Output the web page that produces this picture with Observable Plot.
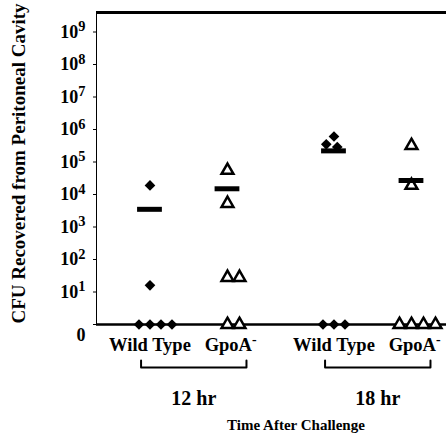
<!DOCTYPE html>
<html>
<head>
<meta charset="utf-8">
<script src="https://cdn.jsdelivr.net/npm/d3@7"></script>
<script src="https://cdn.jsdelivr.net/npm/@observablehq/plot@0.6"></script>
<style>
  body { margin: 0; background: white; overflow: hidden; }
  #caption { width: 446px; box-sizing: border-box; padding-left: 146px; text-align: center;
    font-family: "Liberation Serif", "Times New Roman", Times, "DejaVu Serif", serif;
    font-weight: bold; font-size: 15px; line-height: 18px; color: black; }
  svg text { font-family: "Liberation Serif", "Times New Roman", Times, "DejaVu Serif", serif; }
</style>
</head>
<body>
<div id="chart"></div>
<div id="caption">Time After Challenge</div>
<script>
// ---- data (CFU recovered per mouse; 0 = none recovered) ----
const strains = ["Wild Type", "GpoA⁻"];
const times = ["12 hr", "18 hr"];
const cfuWT12 = [19000, 16, 0, 0, 0, 0];
const cfuGpoA12 = [55000, 5300, 28, 28, 0, 0];
const cfuWT18 = [610000, 290000, 350000, 0, 0, 0];
const cfuGpoA18 = [320000, 19000, 0, 0, 0, 0];
const meanCFU = [3500, 15000, 220000, 27000]; // WT12, GpoA12, WT18, GpoA18
const yTicks = [0, 1, 2, 3, 4, 5, 6, 7, 8, 9];
const yLabel = "CFU Recovered from Peritoneal Cavity";

// ---- layout ----
const W = 446, H = 416, mL = 96, mR = 0, mT = 12, mB = 92;
const facetStep = 184;
const yMax = 9.6;
const xDomain = [-0.69, 1.684];
const pxPerY = (H - mT - mB) / yMax;
const pxPerX = facetStep / (xDomain[1] - xDomain[0]);
const serif = '"Liberation Serif", "Times New Roman", Times, "DejaVu Serif", serif';

const toLog = c => c > 0 ? Math.log10(c) : 0;
const sup = "⁰¹²³⁴⁵⁶⁷⁸⁹";

// beeswarm-like dodge (pixel space), prefers right on ties
function dodge(ys, diam) {
  const placed = [];
  return ys.map(yv => {
    const py = yv * pxPerY;
    const cands = [0];
    for (const p of placed) {
      const dy = Math.abs(p.py - py);
      if (dy < diam) { const w = Math.sqrt(diam * diam - dy * dy); cands.push(p.px + w, p.px - w); }
    }
    const ok = c => placed.every(p => (c - p.px) ** 2 + (py - p.py) ** 2 >= diam * diam - 1e-6);
    const valid = cands.filter(ok).sort((a, b) => Math.abs(a) - Math.abs(b) || b - a);
    const px = valid[0];
    placed.push({px, py});
    return px;
  });
}

const groups = [
  {strain: strains[0], time: times[0], cfu: cfuWT12, mean: meanCFU[0]},
  {strain: strains[1], time: times[0], cfu: cfuGpoA12, mean: meanCFU[1]},
  {strain: strains[0], time: times[1], cfu: cfuWT18, mean: meanCFU[2]},
  {strain: strains[1], time: times[1], cfu: cfuGpoA18, mean: meanCFU[3]}
];
const rows = groups.flatMap(g => {
  const slot = strains.indexOf(g.strain);
  const logs = g.cfu.map(toLog);
  const offs = dodge(logs, slot === 0 ? 11 : 12);
  return logs.map((v, i) => ({strain: g.strain, time: g.time, logCFU: v, x: slot + offs[i] / pxPerX}));
});
const meanRows = groups.map(g => ({time: g.time, slot: strains.indexOf(g.strain), logMean: toLog(g.mean)}));
const labelRows = times.flatMap(t => strains.map((s, i) => ({time: t, strain: s, slot: i})));
const bx1 = -0.115, bx2 = 1.245, bTick = 7 / pxPerY;
const bracketRows = times.flatMap(t => [
  {time: t, x: bx1, y: 0}, {time: t, x: bx1, y: -bTick}, {time: t, x: bx2, y: -bTick}, {time: t, x: bx2, y: 0}
]);

const svg = Plot.plot({
  width: W, height: H,
  marginLeft: mL, marginRight: mR, marginTop: mT, marginBottom: mB,
  style: {fontFamily: serif, fontSize: "18px", fontWeight: "bold", background: "white", color: "black", overflow: "visible"},
  fx: {domain: times, padding: 0, range: [mL, mL + facetStep * times.length], axis: null},
  x: {domain: xDomain, axis: null},
  y: {domain: [0, yMax], ticks: yTicks, tickSize: 3, tickPadding: 8, line: true,
      tickFormat: d => d === 0 ? "0" : "10" + sup[d],
      label: yLabel, labelAnchor: "center", labelOffset: 85, labelArrow: false},
  marks: [
    Plot.ruleY([yMax], {strokeWidth: 3}),
    Plot.ruleY([0], {strokeWidth: 2.5}),
    Plot.dot(rows.filter(d => d.strain === strains[0]), {fx: "time", x: "x", y: "logCFU", symbol: "diamond2", r: 4.8, fill: "black"}),
    Plot.dot(rows.filter(d => d.strain === strains[1]), {fx: "time", x: "x", y: "logCFU", symbol: "triangle", r: 4.4, stroke: "black", strokeWidth: 2.5, fill: "white"}),
    Plot.ruleY(meanRows, {fx: "time", y: "logMean", x1: d => d.slot - 0.16, x2: d => d.slot + 0.16, strokeWidth: 5}),
    Plot.text(labelRows, {fx: "time", x: d => d.slot + d.slot * 0.04, y: 0, dy: 21, text: "strain", fontSize: 18.5}),
    Plot.line(bracketRows, {fx: "time", x: "x", y: "y", z: "time", dy: 36, strokeWidth: 2}),
    Plot.text(times.map(t => ({time: t})), {fx: "time", x: (bx1 + bx2) / 2, y: 0, dy: 74, text: "time", fontSize: 20})
  ]
});

// superscripts as real tspans
const supMap = Object.fromEntries([...sup].map((c, i) => [c, String(i)]));
d3.select(svg).selectAll("text").each(function () {
  const t = this.textContent;
  let m = t.match(/^10([⁰¹²³⁴⁵⁶⁷⁸⁹]+)$/);
  if (m) {
    this.textContent = "10";
    d3.select(this).append("tspan").attr("dy", "-0.45em").attr("font-size", "0.8em")
      .text([...m[1]].map(c => supMap[c]).join(""));
    return;
  }
  m = t.match(/^(.*)⁻$/);
  if (m) {
    this.textContent = m[1];
    d3.select(this).append("tspan").attr("dy", "-0.5em").attr("font-size", "0.75em").text("-");
    return;
  }
  if (t === "0") { d3.select(this).attr("dy", "0.6em"); return; }
  if (t === yLabel) {
    const tr = this.getAttribute("transform") || "";
    d3.select(this).attr("font-size", 19).attr("transform", tr + " translate(5,0)");
  }
});
d3.select(svg).selectAll("text, g").style("font-family", serif);
document.getElementById("chart").appendChild(svg);
</script>
</body>
</html>
